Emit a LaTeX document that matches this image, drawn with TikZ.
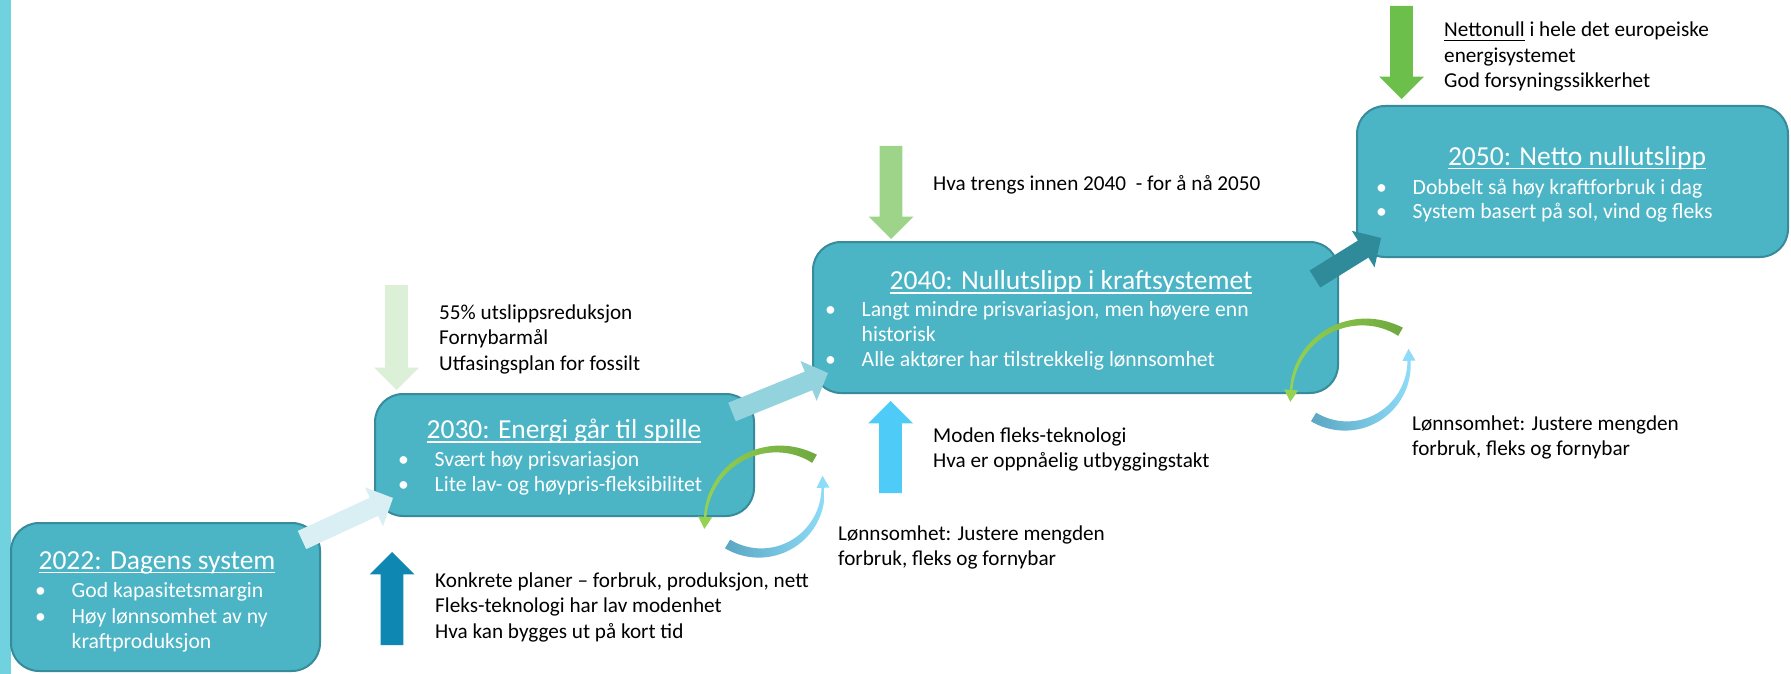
\documentclass[tikz,border=0pt]{standalone}
\usepackage{fontspec}
\setmainfont{Carlito}
\usetikzlibrary{calc}

% colours
\definecolor{sidebar}{HTML}{70D2DE}
\definecolor{boxfill}{HTML}{4BB4C5}
\definecolor{boxline}{HTML}{378B9A}
\definecolor{goalA}{HTML}{DCEFD7}
\definecolor{goalB}{HTML}{9DD48A}
\definecolor{goalC}{HTML}{6CBF4B}
\definecolor{techA}{HTML}{0E87B2}
\definecolor{techB}{HTML}{4ECBF6}
\definecolor{stepA}{HTML}{DAEFF3}
\definecolor{stepB}{HTML}{93D3DE}
\definecolor{stepC}{HTML}{2F8A99}
\definecolor{loopG1}{HTML}{6EA83F}
\definecolor{loopG2}{HTML}{95D153}
\definecolor{loopB1}{HTML}{5AA6C3}
\definecolor{loopB2}{HTML}{8EDCF8}

\tikzset{
  stage/.style={draw=boxline, fill=boxfill, line width=2pt, rounded corners=28pt, inner sep=0pt},
  stagetitle/.style={text=white, inner sep=0pt, anchor=base, font=\fontsize{27.5}{33}\selectfont},
  stageitem/.style={text=white, inner sep=0pt, anchor=base west, font=\fontsize{21.7}{25.5}\selectfont},
  note/.style={text=black, inner sep=0pt, anchor=base west, font=\fontsize{21.2}{25.5}\selectfont},
}

\newcommand{\bul}{\makebox[36.5pt][l]{\textbullet}}
\newcommand{\ulined}[2][1.5pt]{\setbox0\hbox{#2}\rlap{\rule[-4pt]{\wd0}{#1}}\box0\relax}

% block arrow from #1 to #2: half shaft width #3, half head width #4, head length #5, colour #6
\newcommand{\blockarrow}[6]{%
  \coordinate (#1-base) at ($(#2)!#5!(#1)$);
  \fill[#6] ($(#1)!#3!90:(#2)$) -- ($(#1-base)!#3!90:(#2)$) -- ($(#1-base)!#4!90:(#2)$) -- (#2)
    -- ($(#1-base)!#4!-90:(#2)$) -- ($(#1-base)!#3!-90:(#2)$) -- ($(#1)!#3!-90:(#2)$) -- cycle;}

% tapered loop: centre x, centre y, radius, from, to, width at from, width at to, taper power
\newcommand{\loopribbon}[8]{%
  plot[domain=#4:#5, samples=40] ({#1+(#3+(#6+(#7-#6)*((\x-#4)/(#5-#4))^#8)/2)*cos(\x)}, {#2-(#3+(#6+(#7-#6)*((\x-#4)/(#5-#4))^#8)/2)*sin(\x)})
  -- plot[domain=#5:#4, samples=40] ({#1+(#3-(#6+(#7-#6)*((\x-#4)/(#5-#4))^#8)/2)*cos(\x)}, {#2-(#3-(#6+(#7-#6)*((\x-#4)/(#5-#4))^#8)/2)*sin(\x)})
  -- cycle}
% head of a loop: centre x, centre y, radius, angle, width, length
\newcommand{\loophead}[6]{%
  ({#1+(#3+#5/2)*cos(#4)}, {#2-(#3+#5/2)*sin(#4)})
  -- ({#1+#3*cos(#4)-#6*sin(#4)}, {#2-#3*sin(#4)-#6*cos(#4)})
  -- ({#1+(#3-#5/2)*cos(#4)}, {#2-(#3-#5/2)*sin(#4)}) -- cycle}

\begin{document}
\begin{tikzpicture}[x=1pt, y=-1pt]
\useasboundingbox (0,0) rectangle (1791,674);

% ----- side bar -----
\fill[sidebar] (0,0) rectangle (11,674);

% ----- stages -----
\node[stage, minimum width=309pt, minimum height=148pt] (s2022) at (165.5,597) {};
\node[stage, minimum width=379pt, minimum height=122pt] (s2030) at (564.5,455) {};
\node[stage, minimum width=525pt, minimum height=151pt] (s2040) at (1075.5,317.5) {};
\node[stage, minimum width=431pt, minimum height=151pt] (s2050) at (1572.5,181.5) {};

% ----- stage texts -----
\node[stagetitle] (t2022) at (157,569) {\ulined{2022: Dagens system}};
\node[stageitem] (i2022a) at (35,597) {\bul God kapasitetsmargin};
\node[stageitem] (i2022b) at (35,623) {\bul Høy lønnsomhet av ny};
\node[stageitem] (i2022c) at (35,648) {\hspace*{36.5pt}kraftproduksjon};

\node[stagetitle] (t2030) at (564,438.5) {\ulined{2030: Energi går til spille}};
\node[stageitem] (i2030a) at (398,466.5) {\bul Svært høy prisvariasjon};
\node[stageitem] (i2030b) at (398,491.5) {\bul Lite lav- og høypris-fleksibilitet};

\node[stagetitle] (t2040) at (1071,289.5) {\ulined{2040: Nullutslipp i kraftsystemet}};
\node[stageitem] (i2040a) at (825,316.5) {\bul Langt mindre prisvariasjon, men høyere enn};
\node[stageitem] (i2040b) at (825,341.5) {\hspace*{36.5pt}historisk};
\node[stageitem] (i2040c) at (825,366.5) {\bul Alle aktører har tilstrekkelig lønnsomhet};

\node[stagetitle] (t2050) at (1577,165) {\ulined{2050: Netto nullutslipp}};
\node[stageitem] (i2050a) at (1376,194) {\bul Dobbelt så høy kraftforbruk i dag};
\node[stageitem] (i2050b) at (1376,218.5) {\bul System basert på sol, vind og fleks};

% ----- steps between stages -----
\coordinate (ss2022) at (302,540);  \coordinate (se2022) at (393,498);
\coordinate (ss2030) at (732,412);  \coordinate (se2030) at (828,373);
\coordinate (ss2040) at (1315,279); \coordinate (se2040) at (1381,238);
\blockarrow{ss2022}{se2022}{10pt}{21.5pt}{21pt}{stepA}
\blockarrow{ss2030}{se2030}{10pt}{21.5pt}{21pt}{stepB}
\blockarrow{ss2040}{se2040}{10pt}{21.5pt}{21pt}{stepC}

% ----- goals (down) and technology (up) -----
\coordinate (gs2030) at (396.5,285);  \coordinate (ge2030) at (396.5,390);
\coordinate (gs2040) at (891,146);    \coordinate (ge2040) at (891,239);
\coordinate (gs2050) at (1401.5,6);   \coordinate (ge2050) at (1401.5,99);
\coordinate (ks2030) at (392,645);    \coordinate (ke2030) at (392,552);
\coordinate (ks2040) at (890.5,493);  \coordinate (ke2040) at (890.5,401);
\blockarrow{gs2030}{ge2030}{11.3pt}{22.3pt}{22.3pt}{goalA}
\blockarrow{gs2040}{ge2040}{11.3pt}{22.3pt}{22.3pt}{goalB}
\blockarrow{gs2050}{ge2050}{11.3pt}{22.3pt}{22.3pt}{goalC}
\blockarrow{ks2030}{ke2030}{11.3pt}{22.3pt}{22.3pt}{techA}
\blockarrow{ks2040}{ke2040}{11.3pt}{22.3pt}{22.3pt}{techB}

% ----- feedback loops -----
\foreach \dx/\dy in {0/0, 586/-127}{
  \begin{scope}[shift={(\dx,\dy)}]
    \path[left color=loopG2, right color=loopG1] \loopribbon{778}{522}{73}{60}{176}{9.5}{2.5}{0.7};
    \fill[loopG2] \loophead{778}{522}{73}{176}{14}{12};
    \path[left color=loopB1, right color=loopB2] \loopribbon{760}{490}{63}{239}{362}{10}{3}{1.6};
    \fill[loopB2] \loophead{760}{490}{63}{362}{13}{12};
  \end{scope}
}

% ----- notes -----
\foreach \txt [count=\i] in {55\% utslippsreduksjon, Fornybarmål, Utfasingsplan for fossilt}
  \node[note] (n2030-\i) at (439,{319+25.7*(\i-1)}) {\txt};
\node[note] (n2040) at (933,190) {Hva trengs innen 2040 \ - for å nå 2050};
\foreach \txt [count=\i] in {{\ulined[1.2pt]{Nettonull} i hele det europeiske}, energisystemet, God forsyningssikkerhet}
  \node[note] (n2050-\i) at (1444,{37+25.5*(\i-1)}) {\txt};
\foreach \txt [count=\i] in {{Konkrete planer – forbruk, produksjon, nett}, Fleks-teknologi har lav modenhet, Hva kan bygges ut på kort tid}
  \node[note] (k2030-\i) at (435,{587.5+25.3*(\i-1)}) {\txt};
\foreach \txt [count=\i] in {Moden fleks-teknologi, Hva er oppnåelig utbyggingstakt}
  \node[note] (k2040-\i) at (933,{442+25.3*(\i-1)}) {\txt};
\foreach \txt [count=\i] in {Lønnsomhet: Justere mengden, {forbruk, fleks og fornybar}}
  \node[note] (l2030-\i) at (838,{540.5+25.2*(\i-1)}) {\txt};
\foreach \txt [count=\i] in {Lønnsomhet: Justere mengden, {forbruk, fleks og fornybar}}
  \node[note] (l2040-\i) at (1412,{430+25.2*(\i-1)}) {\txt};

\end{tikzpicture}
\end{document}
